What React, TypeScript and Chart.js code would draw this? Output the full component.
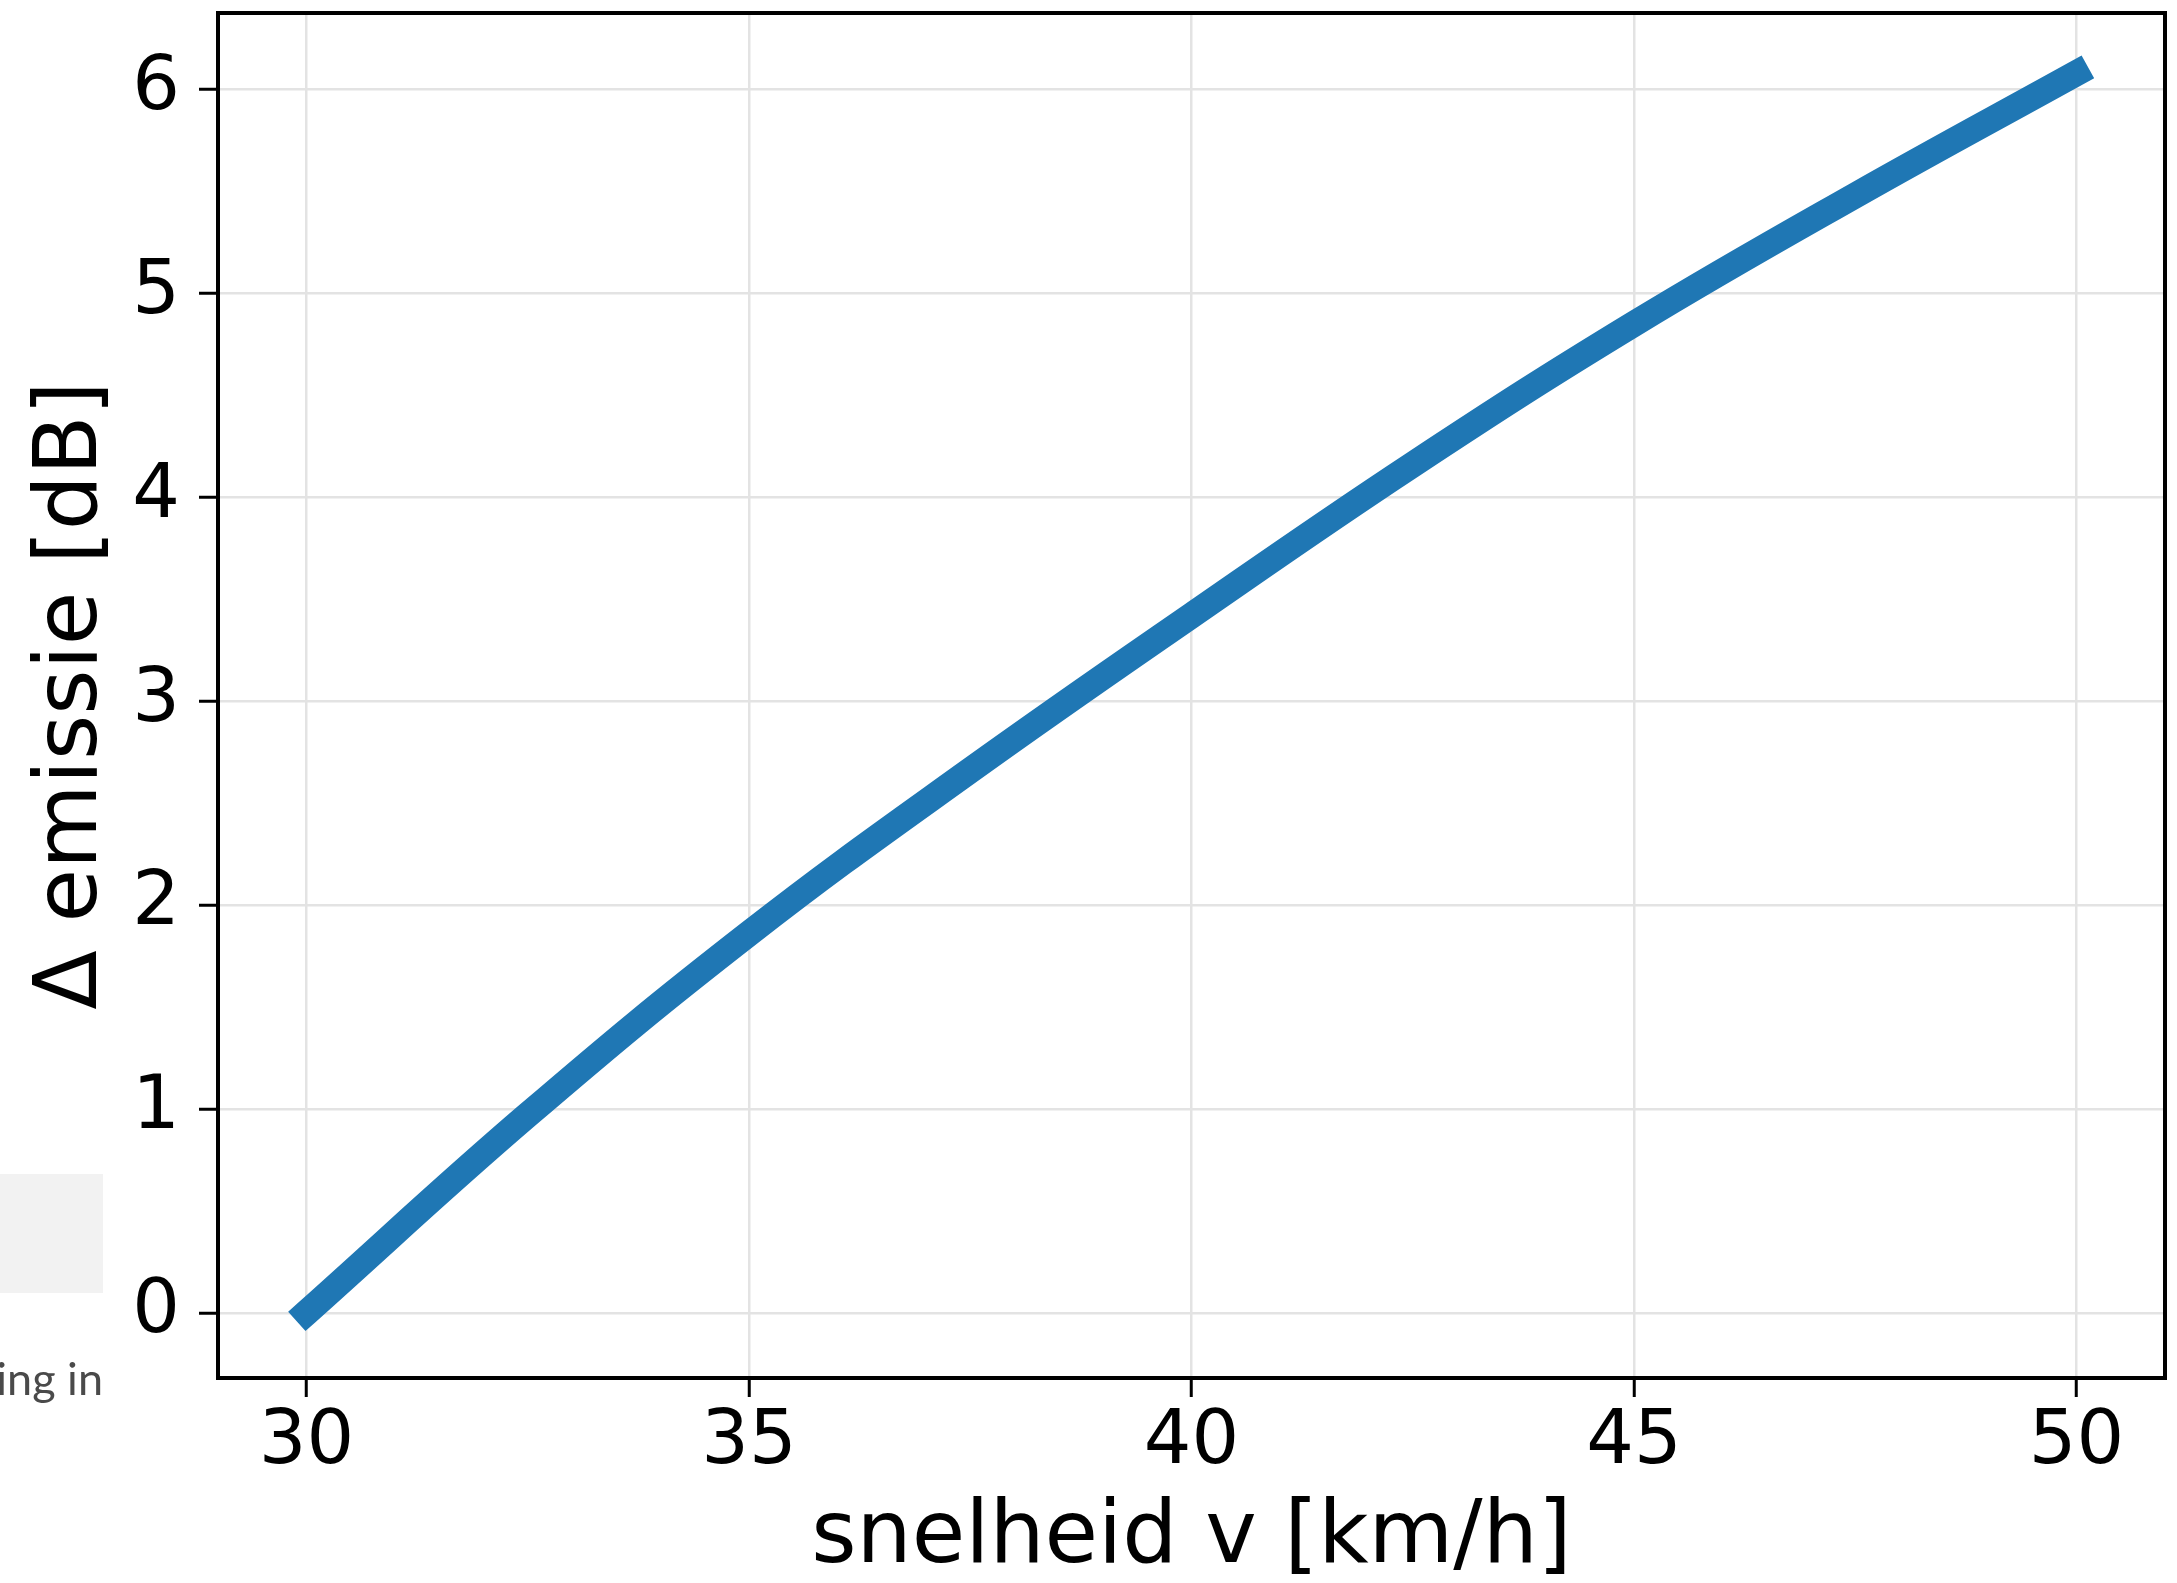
import React, { useEffect, useRef } from "react";
import { Chart, registerables } from "chart.js";

Chart.register(...registerables);

const speeds = [30, 32.5, 35, 37.5, 40, 42.5, 45, 47.5, 50];
const deltaEmission = [0, 0.97, 1.86, 2.66, 3.42, 4.16, 4.85, 5.48, 6.08];
const xTicks = [30, 35, 40, 45, 50];
const yTicks = [0, 1, 2, 3, 4, 5, 6];
const xTitle = "snelheid v [km/h]";
const yTitle = "Δ emissie [dB]";
const sideText = "ing in";

const W = 2177;
const H = 1583;

const framePlugin = {
  id: "frame",
  beforeDraw(chart: any) {
    const ctx = chart.ctx;
    ctx.save();
    ctx.fillStyle = "#ffffff";
    ctx.fillRect(0, 0, W, H);
    ctx.fillStyle = "#f2f2f2";
    ctx.fillRect(0, 1174, 103, 119);
    ctx.fillStyle = "#4a4a4a";
    ctx.font = "45px Lato";
    ctx.textAlign = "right";
    ctx.textBaseline = "alphabetic";
    ctx.fillText(sideText, 103, 1395);
    ctx.restore();
  },
  afterDraw(chart: any) {
    const { left, right, top, bottom } = chart.chartArea;
    const ctx = chart.ctx;
    ctx.save();
    ctx.strokeStyle = "#000000";
    ctx.lineWidth = 4;
    ctx.strokeRect(left, top, right - left, bottom - top);
    ctx.restore();
  },
};

const zeroPad = (s: any) => {
  s.paddingTop = 0;
  s.paddingBottom = 0;
  s.paddingLeft = 0;
  s.paddingRight = 0;
};

export default function App() {
  const ref = useRef<HTMLCanvasElement | null>(null);
  useEffect(() => {
    if (!ref.current) return;
    const chart = new Chart(ref.current, {
      type: "line",
      data: {
        datasets: [
          {
            data: speeds.map((v, i) => ({ x: v, y: deltaEmission[i] })),
            borderColor: "#1f77b4",
            borderWidth: 26,
            borderCapStyle: "square",
            borderJoinStyle: "round",
            pointRadius: 0,
            tension: 0.4,
            fill: false,
          },
        ],
      },
      options: {
        animation: false,
        responsive: false,
        devicePixelRatio: 1,
        layout: { padding: { top: 13, right: 12, left: 0, bottom: 0 } },
        plugins: { legend: { display: false }, tooltip: { enabled: false } },
        scales: {
          x: {
            type: "linear",
            min: 29,
            max: 51,
            afterFit: (s: any) => {
              s.height = 205;
              zeroPad(s);
            },
            afterBuildTicks: (s: any) => {
              s.ticks = xTicks.map((v) => ({ value: v }));
            },
            border: { display: false },
            grid: {
              color: "#e3e3e3",
              lineWidth: 2.5,
              tickColor: "#000000",
              tickWidth: 3,
              tickLength: 19,
            },
            ticks: {
              color: "#000000",
              padding: 2,
              font: { family: "DejaVu Sans", size: 75, lineHeight: 1.2 },
              callback: (v: any) => String(v),
              maxRotation: 0,
            },
            title: {
              display: true,
              text: xTitle,
              color: "#000000",
              padding: 0,
              font: { family: "DejaVu Sans", size: 87, lineHeight: 1 },
            },
          },
          y: {
            type: "linear",
            min: -0.32,
            max: 6.375,
            afterFit: (s: any) => {
              s.width = 218;
              zeroPad(s);
            },
            afterBuildTicks: (s: any) => {
              s.ticks = yTicks.map((v) => ({ value: v }));
            },
            border: { display: false },
            grid: {
              color: "#e3e3e3",
              lineWidth: 2.5,
              tickColor: "#000000",
              tickWidth: 3,
              tickLength: 19,
            },
            ticks: {
              color: "#000000",
              padding: 19,
              font: { family: "DejaVu Sans", size: 75, lineHeight: 1.2 },
              callback: (v: any) => String(v),
            },
            title: {
              display: true,
              text: yTitle,
              color: "#000000",
              padding: { top: 30, bottom: 0 },
              font: { family: "DejaVu Sans", size: 87, lineHeight: 1 },
            },
          },
        },
      },
      plugins: [framePlugin],
    } as any);
    return () => chart.destroy();
  }, []);
  return (
    <div style={{ position: "absolute", left: 0, top: 0, width: W, height: H }}>
      <canvas ref={ref} width={W} height={H} style={{ width: W, height: H, display: "block" }} />
    </div>
  );
}
